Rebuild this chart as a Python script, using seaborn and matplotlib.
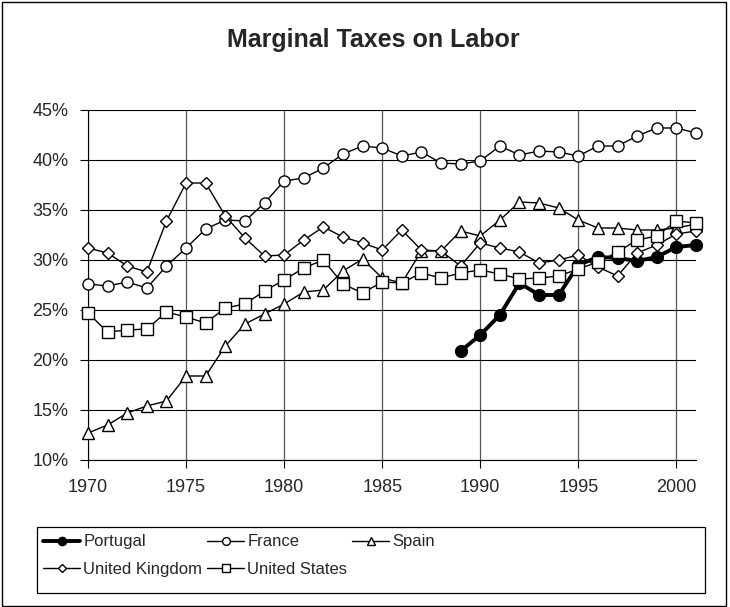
import numpy as np
import pandas as pd
import seaborn as sns
import matplotlib.pyplot as plt
from matplotlib.patches import Rectangle
from matplotlib.ticker import FuncFormatter

# --- data (in %) ---
years = list(range(1970, 2002))
portugal_years = list(range(1989, 2002))

portugal = [20.9, 22.5, 24.5, 27.7, 26.5, 26.5, 29.5, 30.3, 30.2, 29.9, 30.3, 31.3, 31.5]
france = [27.6, 27.4, 27.8, 27.2, 29.4, 31.2, 33.1, 34.0, 33.9, 35.7, 37.9, 38.2, 39.2, 40.6,
          41.4, 41.2, 40.4, 40.8, 39.7, 39.6, 39.9, 41.4, 40.5, 40.9, 40.8, 40.4, 41.4, 41.4,
          42.4, 43.2, 43.2, 42.7]
spain = [12.7, 13.5, 14.7, 15.4, 15.9, 18.4, 18.4, 21.4, 23.6, 24.6, 25.6, 26.8, 27.0, 28.9,
         30.1, 28.2, 27.7, 30.9, 30.9, 32.9, 32.4, 34.0, 35.8, 35.7, 35.2, 34.0, 33.2, 33.2,
         33.0, 33.0, 33.2, 33.6]
uk = [31.2, 30.7, 29.4, 28.8, 33.9, 37.7, 37.7, 34.4, 32.2, 30.4, 30.5, 32.0, 33.3, 32.3,
      31.7, 31.0, 33.0, 31.0, 30.9, 29.4, 31.7, 31.2, 30.8, 29.7, 30.0, 30.5, 29.3, 28.4,
      30.7, 31.5, 32.6, 32.9]
us = [24.7, 22.8, 23.0, 23.1, 24.8, 24.3, 23.7, 25.2, 25.6, 26.9, 28.0, 29.2, 30.0, 27.6,
      26.7, 27.8, 27.7, 28.7, 28.2, 28.7, 29.0, 28.6, 28.1, 28.2, 28.4, 29.1, 29.8, 30.8,
      32.0, 32.4, 33.9, 33.7]

x_ticks = [1970, 1975, 1980, 1985, 1990, 1995, 2000]
y_ticks = [10, 15, 20, 25, 30, 35, 40, 45]

sns.set_style("white")
plt.rcParams["font.family"] = ["Liberation Sans", "DejaVu Sans"]

W, H = 730, 607
fig = plt.figure(figsize=(W / 100, H / 100), dpi=100)
ax = fig.add_axes([88 / W, (H - 460) / H, (696 - 88) / W, 350 / H])

series = [
    ("Portugal", portugal_years, portugal, dict(marker="o", markersize=8.5, linewidth=2.8,
                                                markerfacecolor="black")),
    ("France", years, france, dict(marker="o", markersize=8, linewidth=1.0,
                                   markerfacecolor="white")),
    ("Spain", years, spain, dict(marker="^", markersize=8, linewidth=1.0,
                                 markerfacecolor="white")),
    ("United Kingdom", years, uk, dict(marker="D", markersize=6, linewidth=1.0,
                                       markerfacecolor="white")),
    ("United States", years, us, dict(marker="s", markersize=8, linewidth=1.0,
                                      markerfacecolor="white")),
]

for name, xs, ys, style in series:
    df = pd.DataFrame({"year": xs, "value": ys})
    sns.lineplot(data=df, x="year", y="value", ax=ax, color="black", label=name,
                 markeredgecolor="black", markeredgewidth=1.0, clip_on=False, zorder=3,
                 **style)

ax.set_xlim(1970, 2001)
ax.set_ylim(10, 45)
ax.set_xticks(x_ticks)
ax.set_yticks(y_ticks)
ax.yaxis.set_major_formatter(FuncFormatter(lambda v, p: f"{v:.0f}%"))
ax.tick_params(axis="both", labelsize=13, length=6, width=0.8, color="black",
               direction="out", left=True, bottom=True, pad=8)
ax.set_xlabel("")
ax.set_ylabel("")

ax.grid(axis="y", color="black", linewidth=0.8)
ax.grid(axis="x", color="#555555", linewidth=0.9)
ax.set_axisbelow(True)
for s in ["top", "right"]:
    ax.spines[s].set_visible(False)
for s in ["left", "bottom"]:
    ax.spines[s].set_color("black")
    ax.spines[s].set_linewidth(0.8)

fig.text(373 / W, 1 - 40 / H, "Marginal Taxes on Labor", ha="center", va="center",
         fontsize=18, fontweight="bold")

# legend, row-major order like the reference
handles, labels = ax.get_legend_handles_labels()
ax.get_legend().remove()
order = [0, 3, 1, 4, 2]
leg = fig.legend([handles[i] for i in order], [labels[i] for i in order], ncol=3,
                 loc="upper left", bbox_to_anchor=(40 / W, 1 - 531 / H), frameon=False,
                 fontsize=12, handlelength=2.2, handletextpad=0.2, columnspacing=0.3,
                 labelspacing=0.75, borderpad=0.2, borderaxespad=0, markerscale=0.7)

fig.patches.append(Rectangle((37 / W, 1 - 593 / H), 668 / W, 66 / H, transform=fig.transFigure,
                             fill=False, edgecolor="black", linewidth=0.9))
fig.patches.append(Rectangle((2 / W, 1 / H), 724 / W, 1 - 3 / H, transform=fig.transFigure,
                             fill=False, edgecolor="black", linewidth=1.0))

fig.savefig("out.png", dpi=100)
